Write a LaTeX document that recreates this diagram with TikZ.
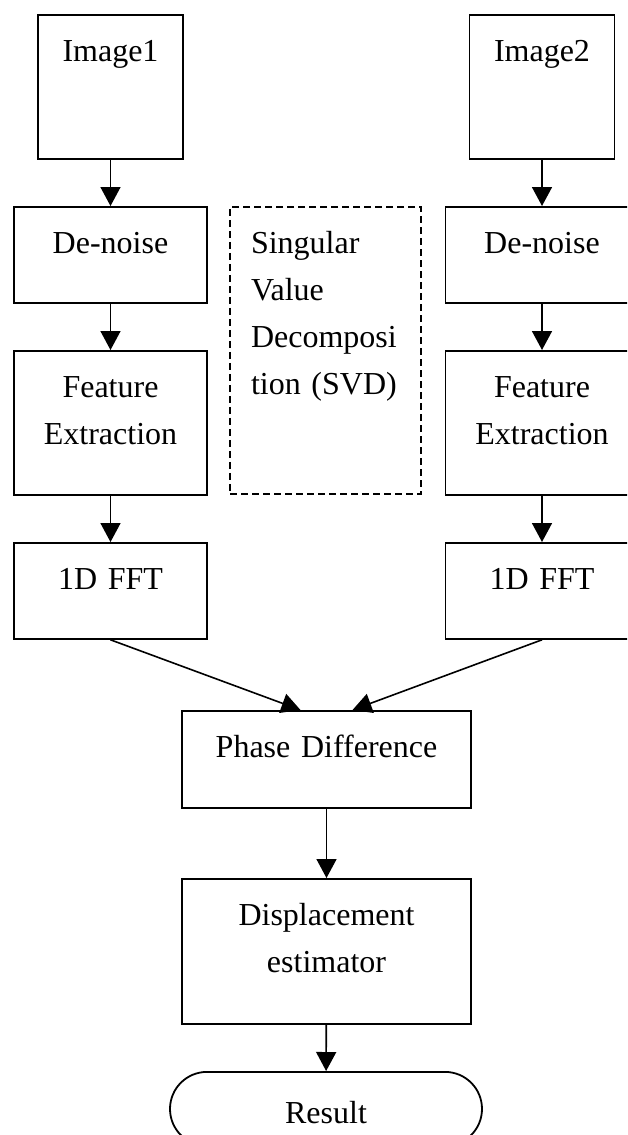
\documentclass[tikz,border=0pt]{standalone}
\usepackage{fontspec}
\setmainfont{Liberation Serif}[WordSpace=0.6]
\usetikzlibrary{arrows.meta}

\begin{document}
\begin{tikzpicture}[x=1pt,y=-1pt,
  blk/.style={draw,line width=1.8pt,anchor=north,inner sep=0pt,align=center,
    text height=47pt,font=\fontsize{32}{47}\selectfont},
  arr/.style={-{Triangle[length=19pt,width=20pt]},line width=1.6pt}]

\useasboundingbox (0,0) rectangle (627,1135);
\clip (0,0) rectangle (627,1135);

% === Two input columns ===
\foreach \s/\cx in {1/110.5,2/542} {
  \node[blk,text width=145pt,text depth=97pt] (img\s) at (\cx,14) {Image\s};
  \node[blk,text width=193pt,text depth=49pt] (dn\s) at (\cx,206) {De-noise};
  \node[blk,text width=193pt,text depth=97pt] (fe\s) at (\cx,350) {Feature\\Extraction};
  \node[blk,text width=193pt,text depth=49pt] (fft\s) at (\cx,542) {1D FFT};
  \draw[arr] (img\s) -- (dn\s);
  \draw[arr] (dn\s) -- (fe\s);
  \draw[arr] (fe\s) -- (fft\s);
}

% === SVD note in between ===
\node[blk,dash pattern=on 7pt off 4pt,line width=1.5pt,align=left,
  text width=149pt,inner xsep=21pt,text depth=240pt] (svd) at (325.5,206)
  {Singular\\Value\\Decomposi\\tion (SVD)};

% === Merge and output ===
\node[blk,text width=289pt,text depth=50pt] (ph) at (326.5,710) {Phase Difference};
\node[blk,text width=289pt,text depth=98pt] (dp) at (326.5,878) {Displacement\\estimator};
\node[blk,rounded corners=37pt,text width=312pt,text height=52pt,text depth=22pt]
  (res) at (326,1071) {Result};

\draw[arr] (fft1.south) -- ([xshift=-26pt]ph.north);
\draw[arr] (fft2.south) -- ([xshift=26pt]ph.north);
\draw[arr] (ph) -- (dp);
\draw[arr] (dp) -- (res);

\end{tikzpicture}
\end{document}
